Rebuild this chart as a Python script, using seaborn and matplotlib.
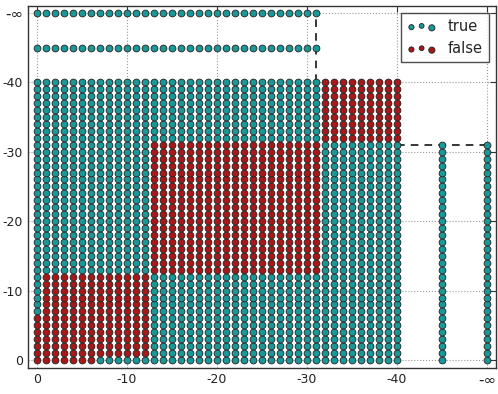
import numpy as np
import pandas as pd
import matplotlib
matplotlib.use("Agg")
import matplotlib.pyplot as plt
import seaborn as sns
from matplotlib.collections import PathCollection
from matplotlib.legend_handler import HandlerPathCollection

# ---------------- data ----------------
NEG_INF_POS = -50                      # axis position used for -inf
grid_x = list(range(0, -41, -1))       # 0 .. -40
grid_y = list(range(0, -41, -1))       # 0 .. -40
extra_levels = [-45, NEG_INF_POS]      # extra rows / columns (-45, -inf)
extra_span = list(range(0, -32, -1))   # 0 .. -31 covered by extra rows/cols
cut_value = -31                         # dashed guide position

# blocks where the outcome is "false": (x_from, x_to, y_from, y_to)
false_blocks = [(0, -12, 0, -12), (-13, -31, -13, -31), (-32, -40, -32, -40)]
# cells inside false blocks that are actually "true"
true_exceptions = [(0, -7), (0, -8), (0, -9), (0, -10), (0, -11), (0, -12),
                   (-7, 0), (-8, 0), (-9, 0), (-10, 0), (-11, 0), (-12, 0)]

tick_pos = [0, -10, -20, -30, -40, -50]
tick_labels = ["0", "-10", "-20", "-30", "-40", "-\u221e"]
series_names = ["true", "false"]
series_colors = {"true": "#1a9797", "false": "#a81818"}

# ---------------- build table ----------------
rows = []
for yv in grid_y:
    for xv in grid_x:
        lab = "true"
        for (x0, x1, y0, y1) in false_blocks:
            if x1 <= xv <= x0 and y1 <= yv <= y0:
                lab = "false"
        if (xv, yv) in true_exceptions:
            lab = "true"
        rows.append((xv, yv, lab))
for lv in extra_levels:
    for sv in extra_span:
        rows.append((sv, lv, "true"))
        rows.append((lv, sv, "true"))
df = pd.DataFrame(rows, columns=["x", "y", "outcome"])

# ---------------- plot ----------------
sns.set_style("white")
plt.rcParams["font.family"] = ["DejaVu Sans"]

fig = plt.figure(figsize=(4.98, 3.94), dpi=100)
ax = fig.add_axes([0.0562, 0.066, 0.9398, 0.919])

for name in series_names:
    sub = df[df["outcome"] == name]
    sns.scatterplot(data=sub, x="x", y="y", ax=ax, color=series_colors[name],
                    s=24, edgecolor="#222222", linewidth=0.6, label=name,
                    legend=False, zorder=3)

# dashed guides
ax.plot([cut_value, cut_value], [grid_y[-1], NEG_INF_POS], ls=(0, (5, 4)),
        color="black", lw=1.1, zorder=2)
ax.plot([grid_x[-1], NEG_INF_POS], [cut_value, cut_value], ls=(0, (5, 4)),
        color="black", lw=1.1, zorder=2)

ax.set_xlim(1, -51)
ax.set_ylim(1.15, -51)
ax.set_xticks(tick_pos)
ax.set_xticklabels(tick_labels)
ax.set_yticks(tick_pos)
ax.set_yticklabels(tick_labels)
ax.set_xlabel("")
ax.set_ylabel("")
ax.tick_params(direction="in", length=4, width=0.8, labelsize=9,
               top=True, right=True, colors="#333333", labelcolor="#222222")
for lab in [ax.get_xticklabels()[-1], ax.get_yticklabels()[-1]]:
    lab.set_fontsize(11)
ax.grid(True, ls=":", color="#999999", lw=0.8)
ax.set_axisbelow(True)
for sp in ax.spines.values():
    sp.set_color("#333333")
    sp.set_linewidth(1.0)

handles = [c for c in ax.collections if isinstance(c, PathCollection)]
leg = ax.legend(handles, series_names, loc="upper right", scatterpoints=3,
                fontsize=10.5, frameon=True, fancybox=False,
                edgecolor="#222222", borderaxespad=0.5,
                handler_map={PathCollection: HandlerPathCollection(sizes=[14, 12, 20])})
leg.get_frame().set_linewidth(1.0)

fig.savefig("out.png", dpi=100)
